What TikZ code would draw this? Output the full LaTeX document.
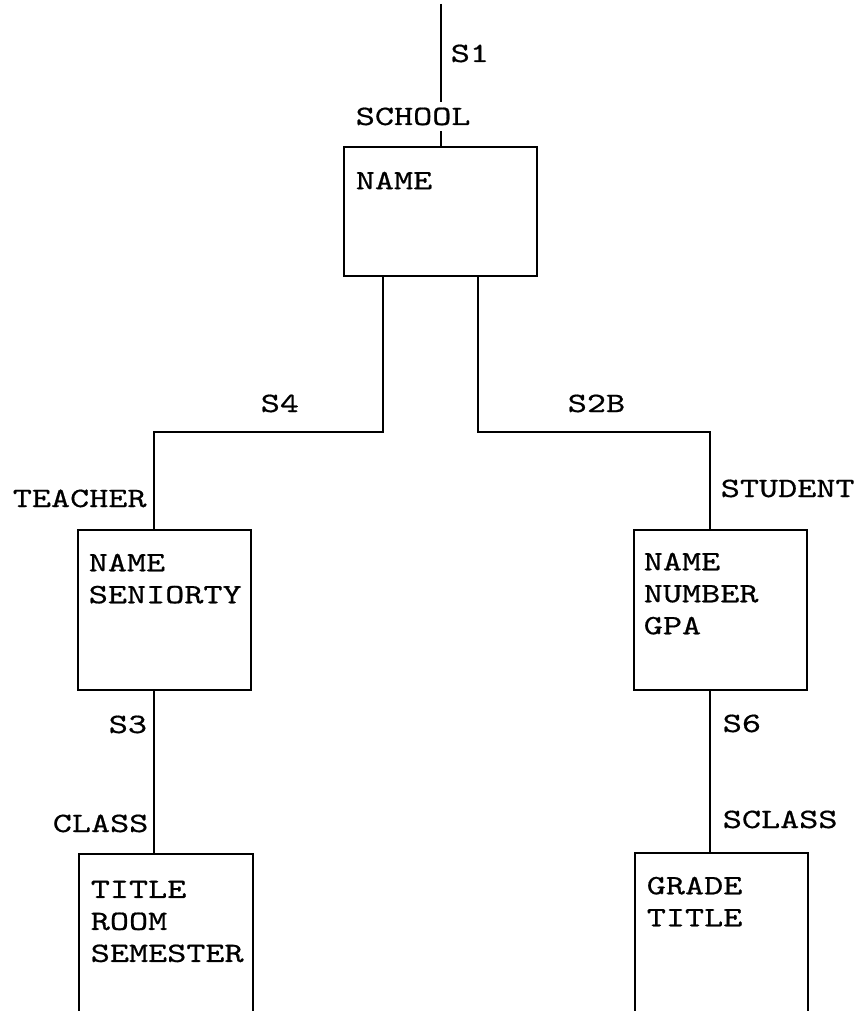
\documentclass[tikz,border=0pt]{standalone}
\usepackage{fontspec}
\newfontfamily\diagmono[FakeStretch=1.3,FakeBold=0.6]{lmmono10-regular.otf}
\begin{document}
\begin{tikzpicture}[x=1pt,y=-1pt,line width=1.6pt,
  lbl/.style={font=\diagmono\fontsize{28}{32}\selectfont, inner sep=0pt, anchor=base west},
  box/.style={draw, rectangle, inner sep=0pt, anchor=north west},
  fields/.style={font=\diagmono\fontsize{28}{32}\selectfont, inner sep=0pt, anchor=north west, align=left}]
\useasboundingbox (0,0) rectangle (855,1011);
\clip (0,0) rectangle (855,1011);
% boxes
\node[box, minimum width=193pt, minimum height=129pt] (school) at (343,146) {};
\node[box, minimum width=173pt, minimum height=160pt] (teacher) at (77,529) {};
\node[box, minimum width=173pt, minimum height=160pt] (student) at (633,529) {};
\node[box, minimum width=174pt, minimum height=220pt] (class) at (78,853) {};
\node[box, minimum width=173pt, minimum height=220pt] (sclass) at (634,852) {};
% fields
\node[fields] (schoolf) at (355,171) {NAME};
\node[fields] (teacherf) at (88,553) {NAME\\SENIORTY};
\node[fields] (studentf) at (643,552) {NAME\\NUMBER\\GPA};
\node[fields] (classf) at (90,880) {TITLE\\ROOM\\SEMESTER};
\node[fields] (sclassf) at (646,876) {GRADE\\TITLE};
% connectors
\coordinate (top) at (441,4);
\coordinate (jl) at (154,432);
\coordinate (jr) at (710,432);
\draw (top) -- (top |- school.north);
\draw ([xshift=40pt]school.south west) |- (jl) -- (jl |- teacher.north);
\draw ([xshift=135pt]school.south west) |- (jr) -- (jr |- student.north);
\draw (jl |- teacher.south) -- (jl |- class.north);
\draw (jr |- student.south) -- (jr |- sclass.north);
% labels
\node[lbl] (s1) at (450,62) {S1};
\node[lbl, fill=white, inner ysep=6pt] (schooll) at (355,125) {SCHOOL};
\node[lbl] (s4) at (260,412) {S4};
\node[lbl] (s2b) at (567,412) {S2B};
\node[lbl] (teacherl) at (12,507) {TEACHER};
\node[lbl] (studentl) at (720,497) {STUDENT};
\node[lbl] (s3) at (108,733) {S3};
\node[lbl] (classl) at (52,832) {CLASS};
\node[lbl] (s6) at (722,732) {S6};
\node[lbl] (sclassl) at (722,828) {SCLASS};
\end{tikzpicture}
\end{document}
